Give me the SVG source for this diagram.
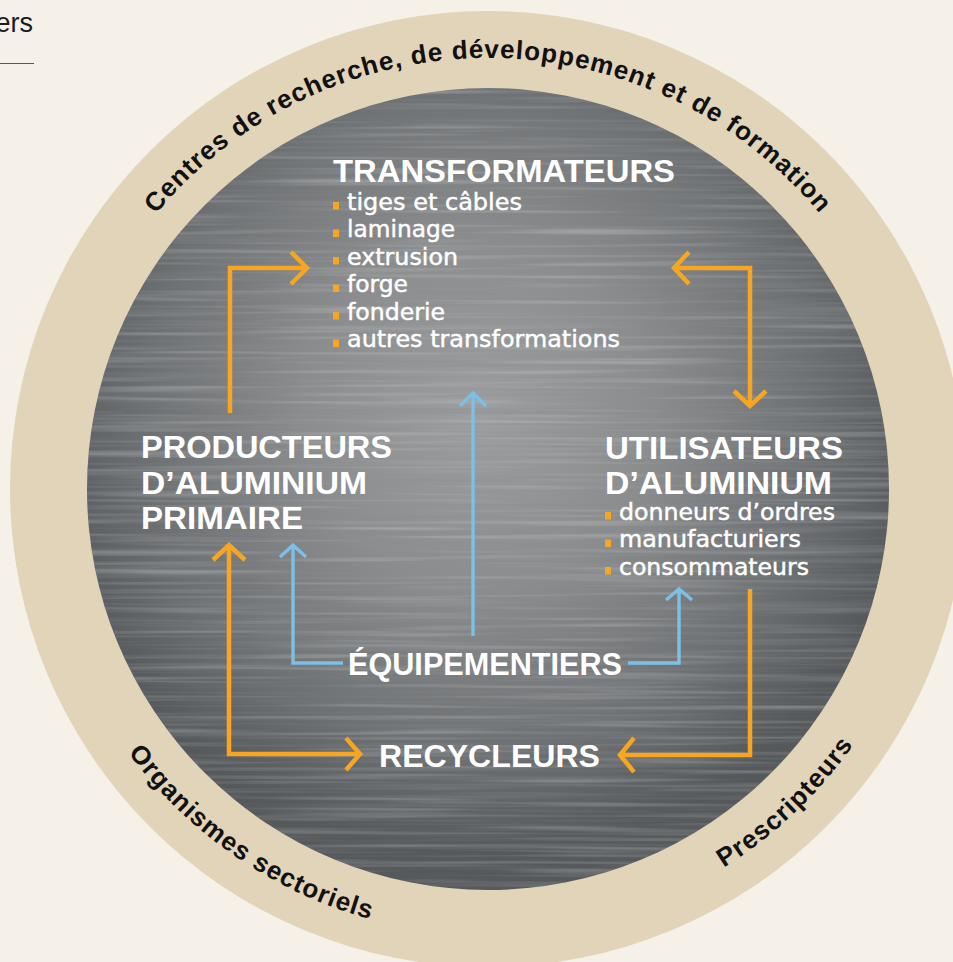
<svg xmlns="http://www.w3.org/2000/svg" width="953" height="962" viewBox="0 0 953 962">
  <style>
    .head { font-family: "Liberation Sans", Arial, sans-serif; font-weight: bold; font-size: 32px; fill: #ffffff; }
    .item { font-family: "DejaVu Sans", "Liberation Sans", sans-serif; font-size: 23px; fill: #ffffff; stroke: #ffffff; stroke-width: 0.45px; }
    .ring-label { font-family: "Liberation Sans", Arial, sans-serif; font-weight: bold; font-size: 26px; fill: #111111; letter-spacing: 1px; }
    .bullet { fill: #f6a621; }
    .orange { fill: none; stroke: #f6a621; stroke-width: 4.5; stroke-linejoin: miter; stroke-linecap: butt; }
    .blue { fill: none; stroke: #7cc0e8; stroke-width: 3.4; stroke-linejoin: miter; stroke-linecap: butt; }
  </style>
  <defs>
    <radialGradient id="metal" gradientUnits="userSpaceOnUse" cx="478" cy="415" r="440">
      <stop offset="0" stop-color="#9d9fa1"/>
      <stop offset="0.4" stop-color="#8a8c8e"/>
      <stop offset="0.75" stop-color="#6e7173"/>
      <stop offset="1" stop-color="#56595b"/>
    </radialGradient>
    <clipPath id="coreClip">
      <circle cx="488" cy="489" r="401"/>
    </clipPath>
    <filter id="brush" filterUnits="userSpaceOnUse" x="87" y="88" width="802" height="802">
      <feTurbulence type="fractalNoise" baseFrequency="0.003 0.25" numOctaves="2" seed="7"/>
      <feColorMatrix type="matrix" values="0 0 0 0 0.25  0 0 0 0 0.26  0 0 0 0 0.27  1.1 0 0 0 -0.5"/>
    </filter>
    <filter id="sheen" filterUnits="userSpaceOnUse" x="87" y="88" width="802" height="802">
      <feTurbulence type="fractalNoise" baseFrequency="0.004 0.2" numOctaves="2" seed="21"/>
      <feColorMatrix type="matrix" values="0 0 0 0 0.8  0 0 0 0 0.81  0 0 0 0 0.82  0.7 0 0 0 -0.36"/>
    </filter>
    <!-- baseline arcs for the ring captions -->
    <path id="arcTop" d="M57 489 A431 431 0 0 1 919 489"/>
    <path id="arcBottom" d="M42 489 A446 446 0 0 0 934 489"/>
  </defs>

  <!-- page background -->
  <rect x="0" y="0" width="953" height="962" fill="#f5f1e9"/>

  <!-- fragment of the neighbouring caption -->
  <g id="corner-caption">
    <text x="33" y="32" text-anchor="end" font-family="Liberation Sans, Arial, sans-serif" font-size="27" fill="#1a1a1a">ers</text>
    <line x1="0" y1="63.5" x2="34" y2="63.5" stroke="#555555" stroke-width="1"/>
  </g>

  <!-- outer ring -->
  <g id="ring">
    <circle cx="488" cy="489" r="478" fill="#e2d4b8"/>
  </g>

  <!-- brushed metal core -->
  <g id="core">
    <circle cx="488" cy="489" r="401" fill="url(#metal)"/>
    <g clip-path="url(#coreClip)">
      <rect x="87" y="88" width="802" height="802" filter="url(#brush)"/>
      <rect x="87" y="88" width="802" height="802" filter="url(#sheen)"/>
    </g>
  </g>

  <!-- ring captions -->
  <g id="ring-labels">
    <text class="ring-label" text-anchor="middle"><textPath href="#arcTop" startOffset="50%">Centres de recherche, de développement et de formation</textPath></text>
    <text class="ring-label" text-anchor="middle"><textPath href="#arcBottom" startOffset="432">Organismes sectoriels</textPath></text>
    <text class="ring-label" text-anchor="middle"><textPath href="#arcBottom" startOffset="1039">Prescripteurs</textPath></text>
  </g>

  <!-- connectors -->
  <g id="connectors">
    <path class="orange" d="M230 413 V268 H306 M291 252 L307 268 L291 284"/>
    <path class="orange" d="M675 268 H750 V405 M689 252 L674 268 L689 284 M734 391 L750 406 L766 391"/>
    <path class="orange" d="M229 546 V754 H359 M213 560 L229 545 L245 560 M346 738 L360 754 L346 770"/>
    <path class="orange" d="M750 589 V755 H621 M634 738 L620 755 L634 772"/>
    <path class="blue" d="M343 663 H293 V546 M280 557 L293 545 L306 557"/>
    <path class="blue" d="M473 636 V393 M460 406 L473 393 L486 406"/>
    <path class="blue" d="M628 663 H679 V589 M666 600 L679 589 L692 600"/>
  </g>

  <g id="node-transformateurs">
    <text class="head" x="333" y="182" textLength="342" lengthAdjust="spacingAndGlyphs">TRANSFORMATEURS</text>
    <rect class="bullet" x="333" y="202" width="6" height="7.5"/>
    <text class="item" x="347" y="209.5" textLength="175" lengthAdjust="spacingAndGlyphs">tiges et câbles</text>
    <rect class="bullet" x="333" y="229.5" width="6" height="7.5"/>
    <text class="item" x="347" y="237" textLength="108" lengthAdjust="spacingAndGlyphs">laminage</text>
    <rect class="bullet" x="333" y="257" width="6" height="7.5"/>
    <text class="item" x="347" y="264.5" textLength="111" lengthAdjust="spacingAndGlyphs">extrusion</text>
    <rect class="bullet" x="333" y="284.5" width="6" height="7.5"/>
    <text class="item" x="347" y="292" textLength="61" lengthAdjust="spacingAndGlyphs">forge</text>
    <rect class="bullet" x="333" y="312" width="6" height="7.5"/>
    <text class="item" x="347" y="319.5" textLength="98" lengthAdjust="spacingAndGlyphs">fonderie</text>
    <rect class="bullet" x="333" y="339.5" width="6" height="7.5"/>
    <text class="item" x="347" y="347" textLength="273" lengthAdjust="spacingAndGlyphs">autres transformations</text>
  </g>

  <g id="node-producteurs">
    <text class="head" x="141" y="458" textLength="251" lengthAdjust="spacingAndGlyphs">PRODUCTEURS</text>
    <text class="head" x="141" y="493.5" textLength="226" lengthAdjust="spacingAndGlyphs">D’ALUMINIUM</text>
    <text class="head" x="141" y="528.5" textLength="162" lengthAdjust="spacingAndGlyphs">PRIMAIRE</text>
  </g>

  <g id="node-utilisateurs">
    <text class="head" x="605" y="459" textLength="238" lengthAdjust="spacingAndGlyphs">UTILISATEURS</text>
    <text class="head" x="605" y="493.5" textLength="227" lengthAdjust="spacingAndGlyphs">D’ALUMINIUM</text>
    <rect class="bullet" x="605" y="512" width="6" height="7.5"/>
    <text class="item" x="619" y="519.5" textLength="216" lengthAdjust="spacingAndGlyphs">donneurs d’ordres</text>
    <rect class="bullet" x="605" y="539.5" width="6" height="7.5"/>
    <text class="item" x="619" y="547" textLength="182" lengthAdjust="spacingAndGlyphs">manufacturiers</text>
    <rect class="bullet" x="605" y="567" width="6" height="7.5"/>
    <text class="item" x="619" y="574.5" textLength="190" lengthAdjust="spacingAndGlyphs">consommateurs</text>
  </g>

  <g id="node-equipementiers">
    <text class="head" x="348" y="675" font-size="28" textLength="274" lengthAdjust="spacingAndGlyphs">ÉQUIPEMENTIERS</text>
  </g>

  <g id="node-recycleurs">
    <text class="head" x="379" y="767" textLength="221" lengthAdjust="spacingAndGlyphs">RECYCLEURS</text>
  </g>
</svg>
